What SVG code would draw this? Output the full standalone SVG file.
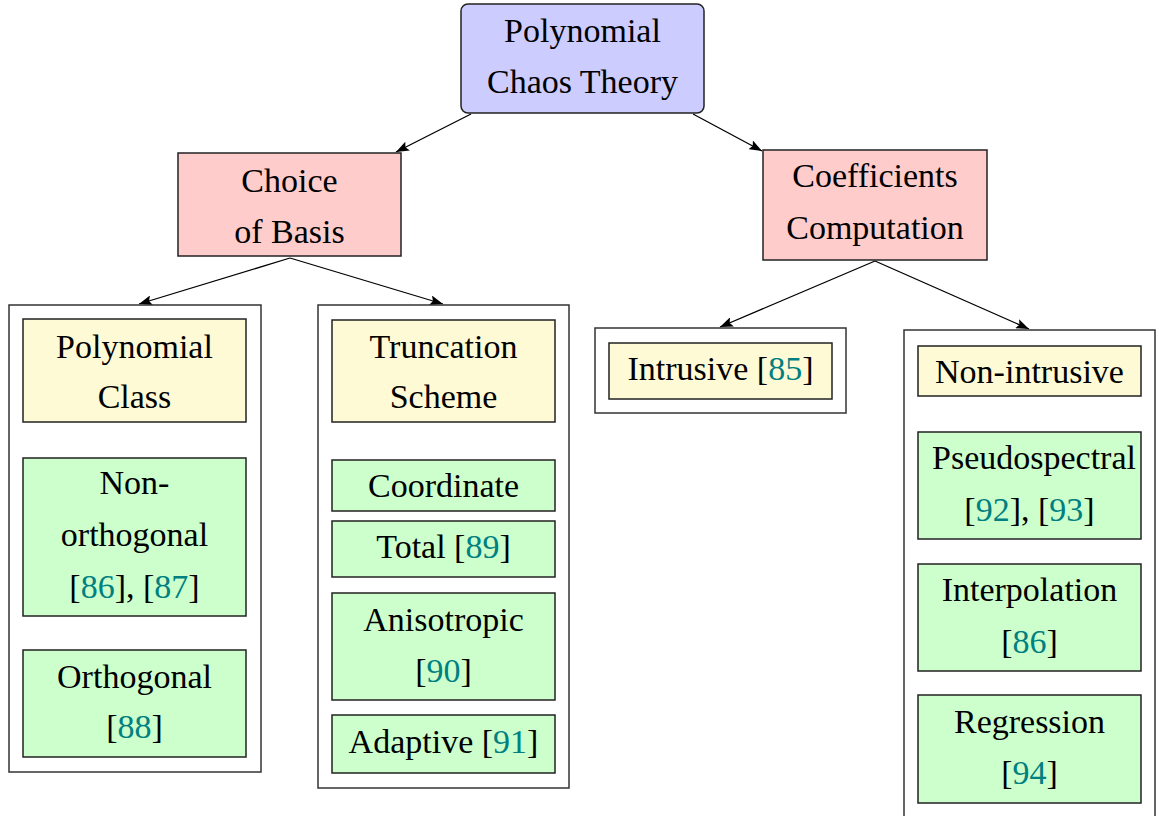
<svg xmlns="http://www.w3.org/2000/svg" width="1159" height="816" viewBox="0 0 1159 816" font-family="'Liberation Serif', 'Times New Roman', serif">
<defs>
<marker id="ah" markerWidth="14" markerHeight="10" refX="13" refY="5" orient="auto" markerUnits="userSpaceOnUse">
<path d="M0,0 L13,5 L0,10 L2.5,5 Z" fill="#000"/>
</marker>
<style>
text{font-family:"Liberation Serif","Times New Roman",serif;font-size:34px;fill:#000;text-anchor:middle}
.r{fill:#008080}
.box{stroke:#222;stroke-width:1.5}
.cont{fill:#fff;stroke:#333;stroke-width:1.5}
.top{fill:#ccccff}
.red{fill:#ffcccc}
.yel{fill:#fffad6}
.grn{fill:#ccffcc}
.conn line{stroke:#000;stroke-width:1.3;marker-end:url(#ah)}
</style>
</defs>
<rect width="1159" height="816" fill="#fff"/>
<g id="connectors" class="conn">
<line x1="471" y1="114" x2="396" y2="152"/>
<line x1="693" y1="114" x2="762" y2="151"/>
<line x1="290" y1="258" x2="139" y2="304"/>
<line x1="290" y1="258" x2="443" y2="304"/>
<line x1="875" y1="261" x2="720" y2="327"/>
<line x1="875" y1="261" x2="1029" y2="329"/>
</g>
<g id="pct"><rect class="box top" x="461" y="4" width="243" height="109" rx="7"/><text x="582.5" y="42">Polynomial</text><text x="582.5" y="93">Chaos Theory</text></g>
<g id="basis"><rect class="box red" x="178" y="153" width="223" height="103"/><text x="289.5" y="192">Choice</text><text x="289.5" y="243">of Basis</text></g>
<g id="coeff"><rect class="box red" x="763" y="150" width="224" height="110"/><text x="875" y="187">Coefficients</text><text x="875" y="239">Computation</text></g>
<g id="c1"><rect class="cont" x="9" y="305" width="252" height="467"/></g>
<g id="c2"><rect class="cont" x="318" y="305" width="251" height="483"/></g>
<g id="c3"><rect class="cont" x="595" y="328" width="251" height="85"/></g>
<g id="c4"><rect class="cont" x="904" y="330" width="251" height="500"/></g>
<g id="pclass"><rect class="box yel" x="23" y="319" width="223" height="103"/><text x="134.5" y="358">Polynomial</text><text x="134.5" y="408">Class</text></g>
<g id="nonorth"><rect class="box grn" x="23" y="458" width="223" height="158"/><text x="134.5" y="494">Non-</text><text x="134.5" y="546">orthogonal</text><text x="134.5" y="598">[<tspan class="r">86</tspan>], [<tspan class="r">87</tspan>]</text></g>
<g id="orth"><rect class="box grn" x="23" y="650" width="223" height="107"/><text x="134.5" y="688">Orthogonal</text><text x="134.5" y="738">[<tspan class="r">88</tspan>]</text></g>
<g id="trunc"><rect class="box yel" x="332" y="320" width="223" height="102"/><text x="443.5" y="358">Truncation</text><text x="443.5" y="408">Scheme</text></g>
<g id="coord"><rect class="box grn" x="332" y="460" width="223" height="51"/><text x="443.5" y="497">Coordinate</text></g>
<g id="total"><rect class="box grn" x="332" y="521" width="223" height="56"/><text x="443.5" y="558">Total [<tspan class="r">89</tspan>]</text></g>
<g id="aniso"><rect class="box grn" x="332" y="593" width="223" height="107"/><text x="443.5" y="631">Anisotropic</text><text x="443.5" y="682">[<tspan class="r">90</tspan>]</text></g>
<g id="adapt"><rect class="box grn" x="332" y="715" width="223" height="58"/><text x="443.5" y="753">Adaptive [<tspan class="r">91</tspan>]</text></g>
<g id="intr"><rect class="box yel" x="609" y="343" width="223" height="56"/><text x="720.5" y="380">Intrusive [<tspan class="r">85</tspan>]</text></g>
<g id="nonintr"><rect class="box yel" x="918" y="346" width="223" height="50"/><text x="1029.5" y="383">Non-intrusive</text></g>
<g id="pseudo"><rect class="box grn" x="918" y="432" width="223" height="107"/><text x="1034" y="469">Pseudospectral</text><text x="1029.5" y="521">[<tspan class="r">92</tspan>], [<tspan class="r">93</tspan>]</text></g>
<g id="interp"><rect class="box grn" x="918" y="564" width="223" height="107"/><text x="1029.5" y="601">Interpolation</text><text x="1029.5" y="653">[<tspan class="r">86</tspan>]</text></g>
<g id="regr"><rect class="box grn" x="918" y="695" width="223" height="108"/><text x="1029.5" y="733">Regression</text><text x="1029.5" y="784">[<tspan class="r">94</tspan>]</text></g>
</svg>
